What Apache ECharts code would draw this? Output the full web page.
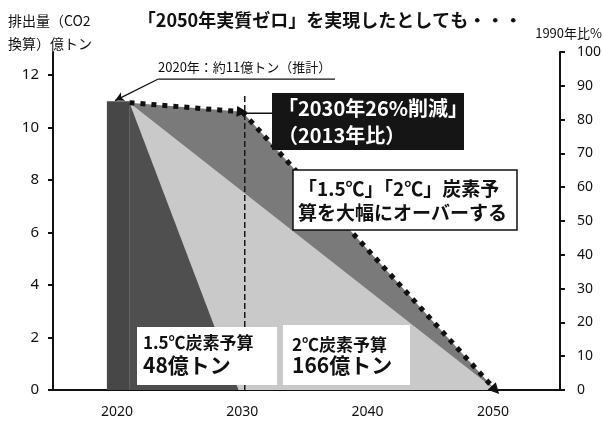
<!DOCTYPE html>
<html>
<head>
<meta charset="utf-8">
<title>2050年実質ゼロ</title>
<script src="https://cdn.jsdelivr.net/npm/echarts@6.0.0/dist/echarts.min.js"></script>
<style>html,body{margin:0;padding:0;background:#fff;}</style>
</head>
<body>
<div id="main" style="width:603px;height:424px;"></div>
<script>
var JP = '"Noto Sans CJK JP", "Noto Sans", sans-serif';

// 軸の目盛り
var yearTicks = [2020, 2030, 2040, 2050];
var leftTicks = [0, 2, 4, 6, 8, 10, 12];

// 2020年の排出量（約11億トン）
var bar2020 = [[2019.2, 11], [2021, 11]];
// 1.5℃炭素予算 48億トン
var budget15 = [[2021, 10.95], [2029.7, 0]];
// 2℃炭素予算 166億トン
var budget2 = [[2021, 10.95], [2050.2, 0]];
// 「2030年26%削減」から2050年ゼロへの経路
var pathYears = [2021, 2030, 2050.2];
var pathValues = [10.95, 10.6, 0];
// 2030年の縦線
var line2030 = [[2030.2, 0], [2030.2, 11.3]];
// 注記の引き出し線
var noteLine = [[2037.4, 11.85], [2023.3, 11.85]];
var noteArrow = [[2023.3, 11.85], [2019.85, 11.03]];
var boxLink = [[2030.2, 10.55], [2032.4, 10.55]];

var path = pathYears.map(function (y, i) { return [y, pathValues[i]]; });

var myChart = echarts.init(document.getElementById('main'));

function area(data, color, z) {
    return {
        type: 'line', data: data, symbol: 'none', z: z, silent: true,
        lineStyle: {width: 0},
        areaStyle: {color: color, opacity: 1}
    };
}
function plain(data, style, z) {
    return {type: 'line', data: data, symbol: 'none', z: z, silent: true, lineStyle: style};
}

var option = {
    animation: false,
    backgroundColor: '#fff',
    textStyle: {fontFamily: JP},
    grid: {left: 53, right: 43, top: 52, bottom: 34, outerBoundsMode: 'none'},
    xAxis: {
        type: 'value', min: 2014.9, max: 2055.35,
        axisLine: {lineStyle: {color: '#111', width: 2}},
        axisTick: {show: false},
        splitLine: {show: false},
        axisLabel: {
            customValues: yearTicks, color: '#111', fontSize: 14, margin: 15, fontFamily: 'Noto Sans',
            formatter: function (v) { return String(v); }
        }
    },
    yAxis: [{
        type: 'value', min: 0, max: 12.88, position: 'left',
        axisLine: {show: true, lineStyle: {color: '#111', width: 2}},
        axisTick: {show: true, customValues: leftTicks, length: 5, lineStyle: {width: 2}},
        splitLine: {show: false},
        axisLabel: {customValues: leftTicks, color: '#111', fontSize: 15, margin: 14, fontFamily: 'Noto Sans'}
    }, {
        type: 'value', min: 0, max: 100, interval: 10, position: 'right',
        axisLine: {show: true, lineStyle: {color: '#111', width: 2}},
        axisTick: {show: true, length: 5, lineStyle: {width: 2}},
        splitLine: {show: false},
        axisLabel: {color: '#111', fontSize: 14, margin: 17, fontFamily: 'Noto Sans'}
    }],
    series: [
        area(path, '#7a7a7a', 1),
        area(budget2, '#c9c9c9', 2),
        area(budget15, '#4f4f4f', 3),
        area(bar2020, '#474747', 3),
        plain(line2030, {color: '#1a1a1a', width: 1.5, type: [6, 3]}, 4),
        plain(boxLink, {color: '#111', width: 1.5}, 4),
        plain(noteLine, {color: '#111', width: 1.3}, 4),
        {
            type: 'line', data: path, symbol: 'none', z: 5, silent: true,
            lineStyle: {opacity: 0},
            markLine: {
                silent: true, symbol: ['none', 'triangle'], symbolSize: [11, 11],
                label: {show: false},
                lineStyle: {color: '#111', width: 5, type: [5, 6]},
                data: [
                    [{coord: path[0]}, {coord: path[1]}],
                    [{coord: path[1]}, {coord: path[2]}]
                ]
            }
        },
        {
            type: 'line', data: noteArrow, symbol: 'none', z: 5, silent: true,
            lineStyle: {opacity: 0},
            markLine: {
                silent: true, symbol: ['none', 'arrow'], symbolSize: [7, 9],
                label: {show: false},
                lineStyle: {color: '#111', width: 1.3, type: 'solid'},
                data: [[{coord: noteArrow[0]}, {coord: noteArrow[1]}]]
            }
        }
    ],
    graphic: [
        {type: 'text', x: 330, y: 20, z: 100, style: {text: '「2050年実質ゼロ」を実現したとしても・・・', font: 'bold 18px ' + JP, fill: '#111', align: 'center', verticalAlign: 'middle'}},
        {type: 'text', x: 8, y: 21, z: 100, style: {text: '排出量（CO2', font: '14px ' + JP, fill: '#111', verticalAlign: 'middle'}},
        {type: 'text', x: 8, y: 44, z: 100, style: {text: '換算）億トン', font: '14px ' + JP, fill: '#111', verticalAlign: 'middle'}},
        {type: 'text', x: 602, y: 33, z: 100, style: {text: '1990年比%', font: '13px ' + JP, fill: '#111', align: 'right', verticalAlign: 'middle'}},
        {type: 'text', x: 158, y: 67, z: 100, style: {text: '2020年：約11億トン（推計）', font: '13px ' + JP, fill: '#111', verticalAlign: 'middle'}},

        {type: 'rect', z: 100, shape: {x: 272, y: 93, width: 192, height: 57}, style: {fill: '#151515'}},
        {type: 'text', x: 278, y: 108, z: 101, style: {text: '「2030年26%削減」', font: 'bold 20px ' + JP, fill: '#fff', verticalAlign: 'middle'}},
        {type: 'text', x: 278, y: 135, z: 101, style: {text: '（2013年比）', font: 'bold 20px ' + JP, fill: '#fff', verticalAlign: 'middle'}},

        {type: 'rect', z: 100, shape: {x: 293, y: 170, width: 224, height: 60}, style: {fill: '#fff', stroke: '#111', lineWidth: 1.5}},
        {type: 'text', x: 298, y: 189, z: 101, style: {text: '「1.5℃」「2℃」炭素予', font: 'bold 19px ' + JP, fill: '#111', verticalAlign: 'middle'}},
        {type: 'text', x: 298, y: 213, z: 101, style: {text: '算を大幅にオーバーする', font: 'bold 19px ' + JP, fill: '#111', verticalAlign: 'middle'}},

        {type: 'rect', z: 100, shape: {x: 137, y: 327, width: 140, height: 58}, style: {fill: '#fff'}},
        {type: 'text', x: 143, y: 343, z: 101, style: {text: '1.5℃炭素予算', font: 'bold 17px ' + JP, fill: '#111', verticalAlign: 'middle'}},
        {type: 'text', x: 143, y: 365, z: 101, style: {text: '48億トン', font: 'bold 21px ' + JP, fill: '#111', verticalAlign: 'middle'}},

        {type: 'rect', z: 100, shape: {x: 283, y: 325, width: 127, height: 60}, style: {fill: '#fff'}},
        {type: 'text', x: 292, y: 345, z: 101, style: {text: '2℃炭素予算', font: 'bold 17px ' + JP, fill: '#111', verticalAlign: 'middle'}},
        {type: 'text', x: 292, y: 365, z: 101, style: {text: '166億トン', font: 'bold 21px ' + JP, fill: '#111', verticalAlign: 'middle'}}
    ]
};

myChart.setOption(option);
</script>
</body>
</html>
